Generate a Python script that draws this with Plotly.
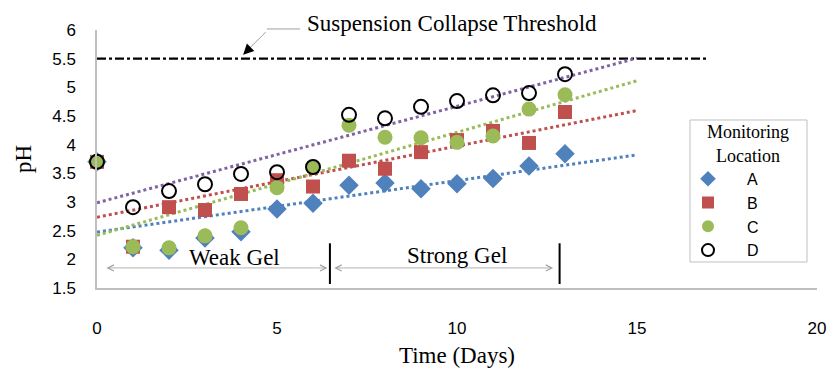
import numpy as np
import plotly.graph_objects as go

days = list(range(14))
loc_a = [3.70, 2.20, 2.16, 2.37, 2.48, 2.88, 2.98, 3.29, 3.33, 3.23, 3.32, 3.41, 3.63, 3.84]
loc_b = [3.70, 2.22, 2.91, 2.86, 3.14, 3.38, 3.27, 3.72, 3.58, 3.87, 4.08, 4.24, 4.03, 4.57]
loc_c = [3.70, 2.22, 2.20, 2.41, 2.55, 3.25, 3.61, 4.34, 4.13, 4.12, 4.04, 4.15, 4.62, 4.87]
loc_d = [3.70, 2.91, 3.19, 3.31, 3.49, 3.52, 3.61, 4.52, 4.46, 4.66, 4.76, 4.86, 4.90, 5.23]
names = ["A", "B", "C", "D"]
threshold_x = [0, 17]
threshold_y = [5.5, 5.5]
trend_x = [0, 15]
weak_gel_end = 6.47
strong_gel_end = 12.85

colors = {"A": "#4F81BD", "B": "#C0504D", "C": "#9BBB59", "D": "#000000"}
trend_colors = {"A": "#4F81BD", "B": "#C0504D", "C": "#9BBB59", "D": "#8064A2"}
series = {"A": loc_a, "B": loc_b, "C": loc_c, "D": loc_d}

fig = go.Figure()

# threshold line
fig.add_trace(go.Scatter(x=threshold_x, y=threshold_y, mode="lines",
                         line=dict(color="black", width=2.2, dash="dashdot"),
                         showlegend=False, hoverinfo="skip"))

# trendlines
for n in names:
    k, b = np.polyfit(days, series[n], 1)
    ty = [k * t + b for t in trend_x]
    fig.add_trace(go.Scatter(x=trend_x, y=ty, mode="lines",
                             line=dict(color=trend_colors[n], width=3, dash="dot"),
                             showlegend=False, hoverinfo="skip"))

marker_styles = {
    "A": dict(symbol="diamond", size=15, color=colors["A"]),
    "B": dict(symbol="square", size=14, color=colors["B"]),
    "C": dict(symbol="circle", size=15, color=colors["C"]),
    "D": dict(symbol="circle-open", size=14, color="black", line=dict(width=2, color="black")),
}
for n in names:
    fig.add_trace(go.Scatter(x=days, y=series[n], mode="markers", name=n,
                             marker=marker_styles[n], cliponaxis=False))

serif = "Liberation Serif"
sans = "Liberation Sans"

# gel phase separators
for xv in [weak_gel_end, strong_gel_end]:
    fig.add_shape(type="line", x0=xv, x1=xv, y0=1.57, y1=2.28, xref="x", yref="y",
                  line=dict(color="black", width=2))

# double arrows
for (a0, a1) in [(0.22, 6.4), (6.55, 12.67)]:
    fig.add_annotation(x=a1, y=1.85, ax=a0, ay=1.85, axref="x", ayref="y", xref="x", yref="y",
                       text="", showarrow=True, arrowside="end+start", arrowhead=5,
                       arrowwidth=0.8, arrowsize=1.5, arrowcolor="#A0A0A0")

fig.add_annotation(x=3.82, y=2.04, text="Weak Gel", showarrow=False,
                   font=dict(family=serif, size=23, color="black"))
fig.add_annotation(x=10.0, y=2.07, text="Strong Gel", showarrow=False,
                   font=dict(family=serif, size=23, color="black"))

# threshold label and leader
fig.add_annotation(x=9.86, y=1.027, xref="x", yref="paper", yanchor="middle",
                   text="Suspension Collapse Threshold",
                   showarrow=False, font=dict(family=serif, size=23, color="black"))
fig.add_shape(type="line", x0=0.236, x1=0.282, y0=1.004, y1=1.004, xref="paper", yref="paper",
              line=dict(color="#A0A0A0", width=1))
fig.add_annotation(x=4.06, y=5.57, xref="x", yref="y", ax=24, ay=-24, text="",
                   showarrow=True, arrowhead=0, arrowwidth=1, arrowcolor="#A0A0A0")
fig.add_annotation(x=4.06, y=5.57, xref="x", yref="y", ax=7, ay=-7, text="",
                   showarrow=True, arrowhead=2, arrowsize=1.4, arrowwidth=1.5, arrowcolor="black")

# legend frame
fig.add_shape(type="rect", x0=0.8236, x1=0.9861, y0=0.1008, y1=0.6512, xref="paper", yref="paper",
              line=dict(color="#BFBFBF", width=1), fillcolor="white", layer="above")

nb = "\u00a0"
legend_title = nb * 8 + "Monitoring<br>" + nb * 10 + "Location"

fig.update_layout(
    width=829, height=370,
    margin=dict(l=97, r=12, t=30, b=82, autoexpand=False),
    paper_bgcolor="white", plot_bgcolor="white",
    showlegend=True,
    legend=dict(
        x=(669 - 97) / 720, y=0.6705, xanchor="left", yanchor="top",
        borderwidth=0, bgcolor="rgba(0,0,0,0)",
        title=dict(text=legend_title, side="top",
                   font=dict(family=serif, size=18, color="black")),
        font=dict(family=sans, size=16, color="black"),
        itemwidth=68, tracegroupgap=0, itemsizing="constant",
    ),
    xaxis=dict(range=[0, 20], tickvals=[0, 5, 10, 15, 20], showgrid=False, zeroline=False,
               automargin=False,
               showline=True, linecolor="#BFBFBF", linewidth=1.5,
               ticks="outside", ticklen=24, tickcolor="rgba(0,0,0,0)",
               tickfont=dict(family=sans, size=17, color="black"),
               title=dict(text="Time (Days)", font=dict(family=serif, size=23, color="black"), standoff=10)),
    yaxis=dict(range=[1.5, 6], tickvals=[1.5, 2, 2.5, 3, 3.5, 4, 4.5, 5, 5.5, 6],
               ticktext=["1.5", "2", "2.5", "3", "3.5", "4", "4.5", "5", "5.5", "6"],
               showgrid=False, zeroline=False, automargin=False,
               showline=True, linecolor="#BFBFBF", linewidth=1.5,
               ticks="outside", ticklen=16, tickcolor="rgba(0,0,0,0)",
               tickfont=dict(family=sans, size=17, color="black"),
               title=dict(text="pH", font=dict(family=serif, size=23, color="black"), standoff=14)),
)

fig.write_html("out.html")
